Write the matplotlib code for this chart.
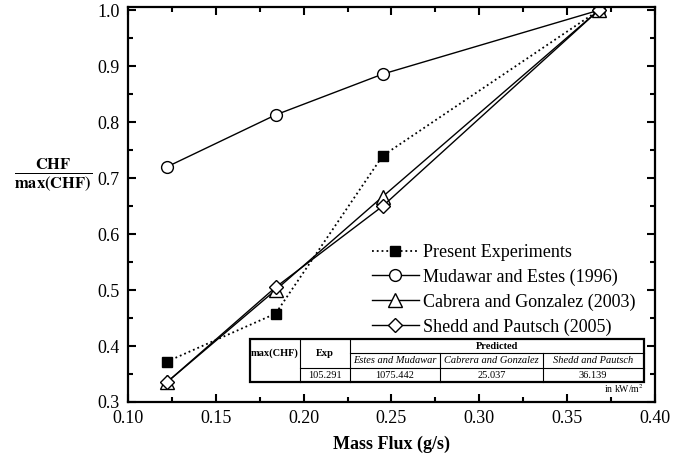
import matplotlib
matplotlib.use('Agg')
import matplotlib.pyplot as plt
from matplotlib.ticker import MultipleLocator

plt.rcParams['font.family'] = ['Liberation Serif', 'DejaVu Serif']
plt.rcParams['mathtext.fontset'] = 'stix'

mass_flux = [0.122, 0.184, 0.245, 0.368]
present_exp = [0.372, 0.458, 0.740, 1.0]
mudawar_estes = [0.720, 0.813, 0.886, 1.0]
cabrera_gonzalez = [0.335, 0.500, 0.667, 1.0]
shedd_pautsch = [0.335, 0.505, 0.650, 1.0]

table_head = ['max(CHF)', 'Exp', 'Predicted']
table_models = ['Estes and Mudawar', 'Cabrera and Gonzalez', 'Shedd and Pautsch']
table_values = ['105.291', '1075.442', '25.037', '36.139']

fig = plt.figure(figsize=(6.85, 4.61), dpi=100)
ax = fig.add_axes([0.187, 0.128, 0.769, 0.857])

ax.plot(mass_flux, present_exp, ls=':', color='black', lw=1.3, marker='s', ms=6.5,
        mfc='black', mec='black', label='Present Experiments')
ax.plot(mass_flux, mudawar_estes, ls='-', color='black', lw=1.0, marker='o', ms=8.5,
        mfc='white', mec='black', label='Mudawar and Estes (1996)')
ax.plot(mass_flux, cabrera_gonzalez, ls='-', color='black', lw=1.0, marker='^', ms=9.5,
        mfc='white', mec='black', label='Cabrera and Gonzalez (2003)')
ax.plot(mass_flux, shedd_pautsch, ls='-', color='black', lw=1.0, marker='D', ms=7.5,
        mfc='white', mec='black', label='Shedd and Pautsch (2005)')

ax.set_xlim(0.10, 0.40)
ax.set_ylim(0.30, 1.006)
ax.xaxis.set_major_locator(MultipleLocator(0.05))
ax.xaxis.set_minor_locator(MultipleLocator(0.025))
ax.yaxis.set_major_locator(MultipleLocator(0.1))
ax.yaxis.set_minor_locator(MultipleLocator(0.05))
ax.xaxis.set_major_formatter(plt.FormatStrFormatter('%.2f'))
ax.yaxis.set_major_formatter(plt.FormatStrFormatter('%.1f'))
ax.tick_params(which='both', direction='in', top=True, right=True, labelsize=13, width=1.5)
ax.tick_params(which='major', length=6, pad=6)
ax.tick_params(which='minor', length=3.5)
for s in ax.spines.values():
    s.set_linewidth(1.6)

ax.set_xlabel('Mass Flux (g/s)', fontsize=13, fontweight='bold', labelpad=6)
fig.text(0.078, 0.62, r'$\mathbf{\frac{CHF}{max(CHF)}}$', fontsize=17,
         ha='center', va='center')

ax.legend(loc='upper left', bbox_to_anchor=(0.463, 0.40), frameon=False, fontsize=13,
          handlelength=2.6, handletextpad=0.25, labelspacing=0.42, borderaxespad=0, borderpad=0)

# table drawn in axes fraction
tr = ax.transAxes
xs = [0.2315, 0.326, 0.421, 0.592, 0.787, 0.979]
ys = [0.159, 0.124, 0.086, 0.0506]
ax.add_patch(plt.Rectangle((xs[0], ys[3]), xs[5] - xs[0], ys[0] - ys[3], transform=tr,
                           facecolor='white', edgecolor='black', lw=1.6, zorder=5))
lk = dict(transform=tr, color='black', lw=0.8, zorder=6)
ax.plot([xs[1], xs[1]], [ys[0], ys[3]], **lk)
ax.plot([xs[2], xs[2]], [ys[0], ys[3]], **lk)
ax.plot([xs[3], xs[3]], [ys[1], ys[3]], **lk)
ax.plot([xs[4], xs[4]], [ys[1], ys[3]], **lk)
ax.plot([xs[2], xs[5]], [ys[1], ys[1]], **lk)
ax.plot([xs[1], xs[5]], [ys[2], ys[2]], **lk)
tk = dict(transform=tr, ha='center', va='center', fontsize=7.5, zorder=7)
ax.text((xs[0] + xs[1]) / 2, (ys[0] + ys[2]) / 2, table_head[0], fontweight='bold', **tk)
ax.text((xs[1] + xs[2]) / 2, (ys[0] + ys[2]) / 2, table_head[1], fontweight='bold', **tk)
ax.text((xs[2] + xs[5]) / 2, (ys[0] + ys[1]) / 2, table_head[2], fontweight='bold', **tk)
for i, name in enumerate(table_models):
    ax.text((xs[2 + i] + xs[3 + i]) / 2, (ys[1] + ys[2]) / 2, name, style='italic', **tk)
for i, v in enumerate(table_values):
    ax.text((xs[1 + i] + xs[2 + i]) / 2, (ys[2] + ys[3]) / 2, v, **tk)
ax.text(xs[5], 0.033, r'in kW/m$^2$', transform=tr, ha='right', va='center', fontsize=7)

fig.savefig('out.png', dpi=100)
